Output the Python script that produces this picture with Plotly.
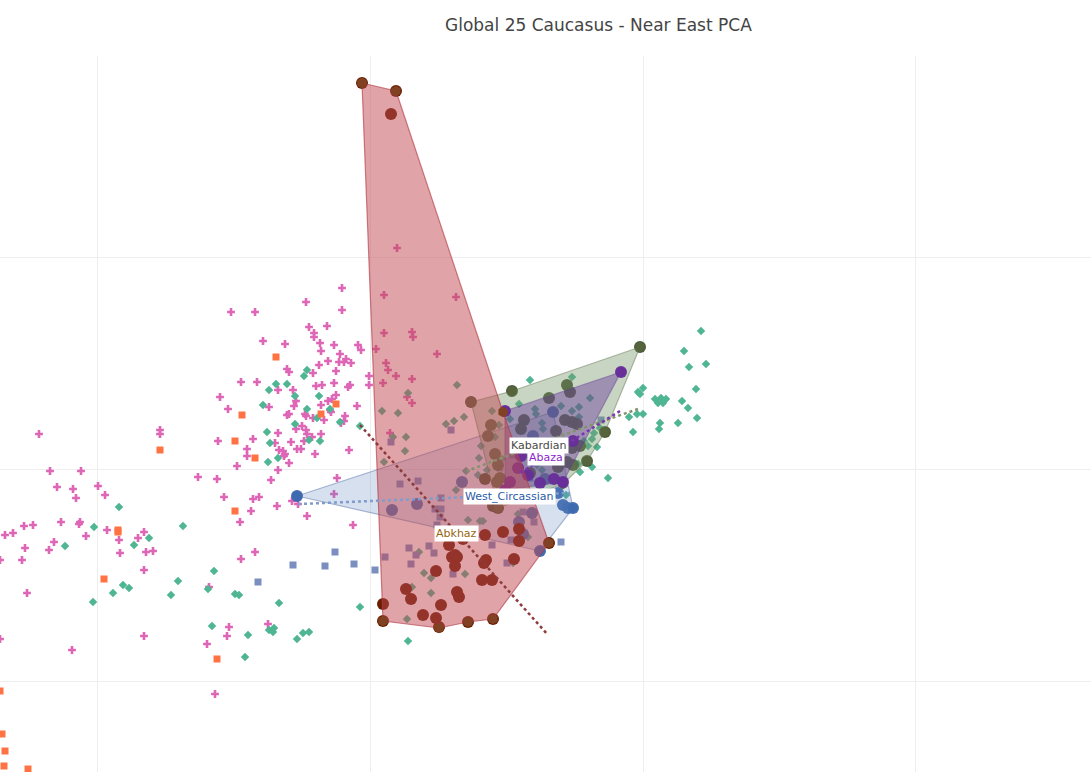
import plotly.graph_objects as go

TITLE = "Global 25 Caucasus - Near East PCA"

# PCA scores (units: 1e-4 of a component, roughly)
pink_x = [-301,-337,-259,-412,-388,-301,-334,-316,-329,-329,-259,-231,-230,-380,-358,-323,-309,-285,-282,-267,-322,-303,-297,-315,-304,-299,-292,-257,-324,-255,-356,-354,-307,-330,-274,-247,-231,-402,-386,-327,-321,-309,-295,-293,-274,-260,-365,-350,-307,-236,-231,-423,-347,-315,-311,-322,-374,-349,-286,-415,-313,-312,-356,-354,-338,-337,-330,-298,-319,-299,-302,-341,-347,-337,-336,-253,-331,-322,-365,-390,-425,-352,-339,-368,-396,-364,-360,-346,-342,-294,-396,-358,-359,-328,-354,-406,-365,-445,-426,-372,-306,-419,-390,-384,-309,-351,-345,-392,-366,-336,-403,-290,-388,-402,-434,-375,-414,-416,-436,-428,-604,-483,-483,-593,-562,-586,-570,-545,-567,-538,-619,-610,-638,-630,-582,-563,-564,-536,-557,-499,-505,-524,-589,-618,-594,-523,-497,-490,-621,-643,-499,-616,-499,-571,-643,-246,-187,-206]
pink_y = [181,167,174,157,157,159,142,143,136,132,136,137,132,128,125,126,124,124,119,120,118,115,110,108,107,107,106,106,104,99,100,97,98,96,93,93,90,87,87,83,84,86,82,84,84,86,79,79,74,72,66,72,68,68,70,64,62,63,63,60,59,57,54,55,55,53,51,53,49,48,46,43,40,39,35,36,32,35,36,30,28,27,28,26,20,19,18,20,20,19,13,15,13,15,6,3,-1,-8,-10,-11,-9,-28,-30,-28,-25,-32,-35,-42,-37,-47,-53,-56,-83,-90,-118,-155,-158,-167,-175,-225,35,39,35,-2,-2,-18,-20,-17,-29,-26,-57,-56,-66,-64,-53,-53,-55,-61,-67,-63,-69,-71,-73,-79,-81,-84,-83,-82,-91,-91,-101,-124,-167,-181,-170,221,172,115]

green_x = [-336,-339,-367,-356,-374,-348,-324,-380,-336,-313,-326,-303,-283,-348,-376,-373,-334,-323,-365,-375,-261,-245,-235,-250,-237,-238,-259,-186,-197,-189,-179,-177,-187,-175,-524,-549,-578,-509,-494,-460,-429,-465,-520,-514,-530,-550,-472,-435,-408,-404,-431,-364,-283,-369,-374,-370,-395,-340,-334,-346,-398,-235,-224,-219,-212,-178,-231,-212,-236,-163,-160,-125,-115,-130,41,46,63,53,-71,-113,-124,-53,-5,-3,0,12,18,15,23,20,39,45,-14,-6,0,54,35,17,16,-10,-43,-49,-51,-46,-55,-59,-65,-51,-63,-35,-77,-82,-71,-64,-108,-107,-133,-151,-144,-101,-100,-64,-148,-162,-164,-141,-156,-165,-106,-101,58]
green_y = [99,93,85,85,79,73,73,64,60,60,51,47,43,45,37,26,29,28,11,7,58,56,76,32,32,18,7,84,45,48,52,-2,-21,-51,-38,-58,-77,-76,-69,-57,-102,-112,-116,-119,-124,-133,-126,-120,-125,-126,-157,-134,-138,-159,-161,-163,-166,-164,-163,-170,-188,-172,-83,-104,-109,-105,-118,-124,-150,-52,-52,-45,-68,-94,118,102,105,80,92,89,65,71,77,75,81,70,71,66,70,66,68,61,52,55,55,51,46,46,40,37,41,36,30,22,23,28,5,2,-3,-9,-26,63,58,62,60,55,50,58,44,46,40,52,32,23,11,10,-1,-6,4,-1,138]

orange_x = [-367,-307,-322,-401,-408,-388,-408,-483,-525,-525,-539,-426,-643,-641,-638,-639,-615]
orange_y = [112,65,55,54,28,11,-42,19,-61,-63,-110,-190,-222,-265,-282,-297,-300]

slate_x = [-350,-318,-308,-289,-385,-268,-258,-234,-214,-227,-209,-232,-190,-151,-136,-132,-109,-120,-82,-202,-208,-202,-203,-206,-192,-252,-243,-225,-42,-85,-123,-143,-113,-130]
slate_y = [-96,-97,-83,-95,-113,-101,-88,-79,-77,-86,-84,-95,-105,-76,-94,-71,-53,-43,-73,-29,-40,-40,-48,-56,39,27,-15,-12,49,-23,-1,1,-9,14]

west_x = [-346,-251,-226,-181,-111,-124,-120,-103,-80,-75,-70,-90,-110,-98,-85]
west_y = [-27,-41,-35,-13,-44,-53,-65,-82,-36,-39,-39,57,33,-10,-24]
west_hull_x = [-346,-90,-70,-103,-346]
west_hull_y = [-27,57,-39,-82,-27]
west_fit_x = [-345,-223,-73]
west_fit_y = [-35,-30,-24]

kab_x = [-131,-76,-94,-73,-172,-152,-119,-122,-155,-78,-71,-66,-87,-38,-63,-71,-148,-145,-85,-76,-70,-56,-158,-143,-146,-113,-145,-150,-3]
kab_y = [78,84,71,77,67,44,49,40,33,49,47,45,38,37,23,21,15,4,2,7,4,8,-10,-9,-13,-4,-39,-37,122]
kab_hull_x = [-172,-131,-3,-38,-56,-80,-145,-172]
kab_hull_y = [67,78,122,37,8,-15,-39,67]
kab_fit_x = [-5,-80,-176]
kab_fit_y = [60,34,-2]

aba_x = [-22,-138,-70,-122,-103,-89,-80,-133,-138,-125,-115]
aba_y = [97,58,28,13,-14,-10,-13,-13,-21,1,-6]
aba_hull_x = [-138,-22,-80,-138,-138]
aba_hull_y = [58,97,-13,-21,58]
aba_fit_x = [-23,-70,-123]
aba_fit_y = [58,29,-4]

abk_x = [-260,-260,-237,-232,-220,-202,-207,-204,-175,-150,-207,-188,-191,-186,-188,-194,-180,-158,-140,-124,-124,-157,-159,-129,-161,-151,-186,-184,-94,-281,-247,-252]
abk_y = [-135,-152,-120,-130,-146,-136,-149,-158,-153,-150,-102,-97,-88,-88,-86,-76,-70,-66,-63,-60,-72,-91,-94,-90,-111,-111,-123,-128,-74,386,378,355]
abk_hull_x = [-281,-247,-140,-94,-150,-175,-204,-260,-281]
abk_hull_y = [386,378,57,-74,-150,-153,-159,-152,386]
abk_fit_x = [-283,-95]
abk_fit_y = [44,-166]

labels = ["Kabardian", "Abaza", "West_Circassian", "Abkhaz"]
label_x = [-104, -97, -134, -187]
label_y = [24, 12, -27, -64]
label_colors = ["#4a4a44", "#8a1fd0", "#2a5ca8", "#96660f"]

x_ticks = [-546, -273, 0, 272]
y_ticks = [212, 0, -212]

fig = go.Figure()

def cloud(x, y, symbol, color, size, name):
    fig.add_trace(go.Scatter(x=x, y=y, mode="markers", name=name, hoverinfo="skip",
                             marker=dict(symbol=symbol, color=color, size=size,
                                         line=dict(width=0))))

cloud(pink_x, pink_y, "cross", "#de66b6", 6.5, "Caucasus")
cloud(green_x, green_y, "diamond", "#4fb592", 6.5, "Near East")
cloud(orange_x, orange_y, "square", "#ff7243", 7, "Other")
cloud(slate_x, slate_y, "square", "#7a8ec0", 7, "Other 2")

groups = [
    (west_x, west_y, west_hull_x, west_hull_y, west_fit_x, west_fit_y,
     "rgba(60,105,175,0.95)", "rgba(95,131,187,0.25)", "rgba(70,105,165,0.45)", "rgba(60,105,175,0.8)", "#7f9ccc", "West_Circassian"),
    (kab_x, kab_y, kab_hull_x, kab_hull_y, kab_fit_x, kab_fit_y,
     "rgba(70,85,50,0.97)", "rgba(120,150,105,0.4)", "rgba(90,110,75,0.45)", "rgba(85,100,60,1)", "#84926a", "Kabardian"),
    (aba_x, aba_y, aba_hull_x, aba_hull_y, aba_fit_x, aba_fit_y,
     "rgba(105,45,155,0.97)", "rgba(100,50,150,0.42)", "rgba(100,60,150,0.45)", "rgba(105,45,155,0.8)", "#7a35b0", "Abaza"),
    (abk_x, abk_y, abk_hull_x, abk_hull_y, abk_fit_x, abk_fit_y,
     "rgb(105,30,0)", "rgba(191,71,81,0.5)", "rgba(180,60,70,0.65)", "rgb(128,66,35)", "#8f3a3a", "Abkhaz"),
]

for gx, gy, hx, hy, fx, fy, dot, fill, edge, vert, fit, name in groups:
    fig.add_trace(go.Scatter(x=gx, y=gy, mode="markers", name=name, hoverinfo="skip",
                             marker=dict(color=dot, size=12, line=dict(width=0))))
    fig.add_trace(go.Scatter(x=hx, y=hy, mode="lines+markers", fill="toself", fillcolor=fill,
                             line=dict(color=edge, width=1.2), hoverinfo="skip",
                             marker=dict(symbol="hexagon", color=vert, size=10.5, line=dict(width=0)),
                             name=name + " hull"))

for gx, gy, hx, hy, fx, fy, dot, fill, edge, vert, fit, name in groups:
    fig.add_trace(go.Scatter(x=fx, y=fy, mode="lines", hoverinfo="skip", name=name + " fit",
                             line=dict(color=fit, width=2.5, dash="dot")))

for t, lx, ly, c in zip(labels, label_x, label_y, label_colors):
    fig.add_annotation(x=lx, y=ly, text=t, showarrow=False, bgcolor="white", borderpad=1,
                       font=dict(family="DejaVu Sans", size=11, color=c))

axis_common = dict(showgrid=True, gridcolor="#eeeeee", gridwidth=1, zeroline=False,
                   showticklabels=False, ticks="", showline=False)

fig.update_layout(
    width=1091, height=772,
    margin=dict(l=0, r=0, t=56, b=0),
    paper_bgcolor="white", plot_bgcolor="white",
    showlegend=False,
    title=dict(text=TITLE, x=0.5485, xanchor="center", y=0.967, yanchor="middle",
               font=dict(family="DejaVu Sans", size=17, color="#444444")),
    xaxis=dict(range=[-643, 448], tickvals=x_ticks, **axis_common),
    yaxis=dict(range=[-303, 413], tickvals=y_ticks, **axis_common),
)

fig.write_html("out.html", config={"displayModeBar": False},
               post_script="document.body.style.margin='0';document.body.style.overflow='hidden';")
